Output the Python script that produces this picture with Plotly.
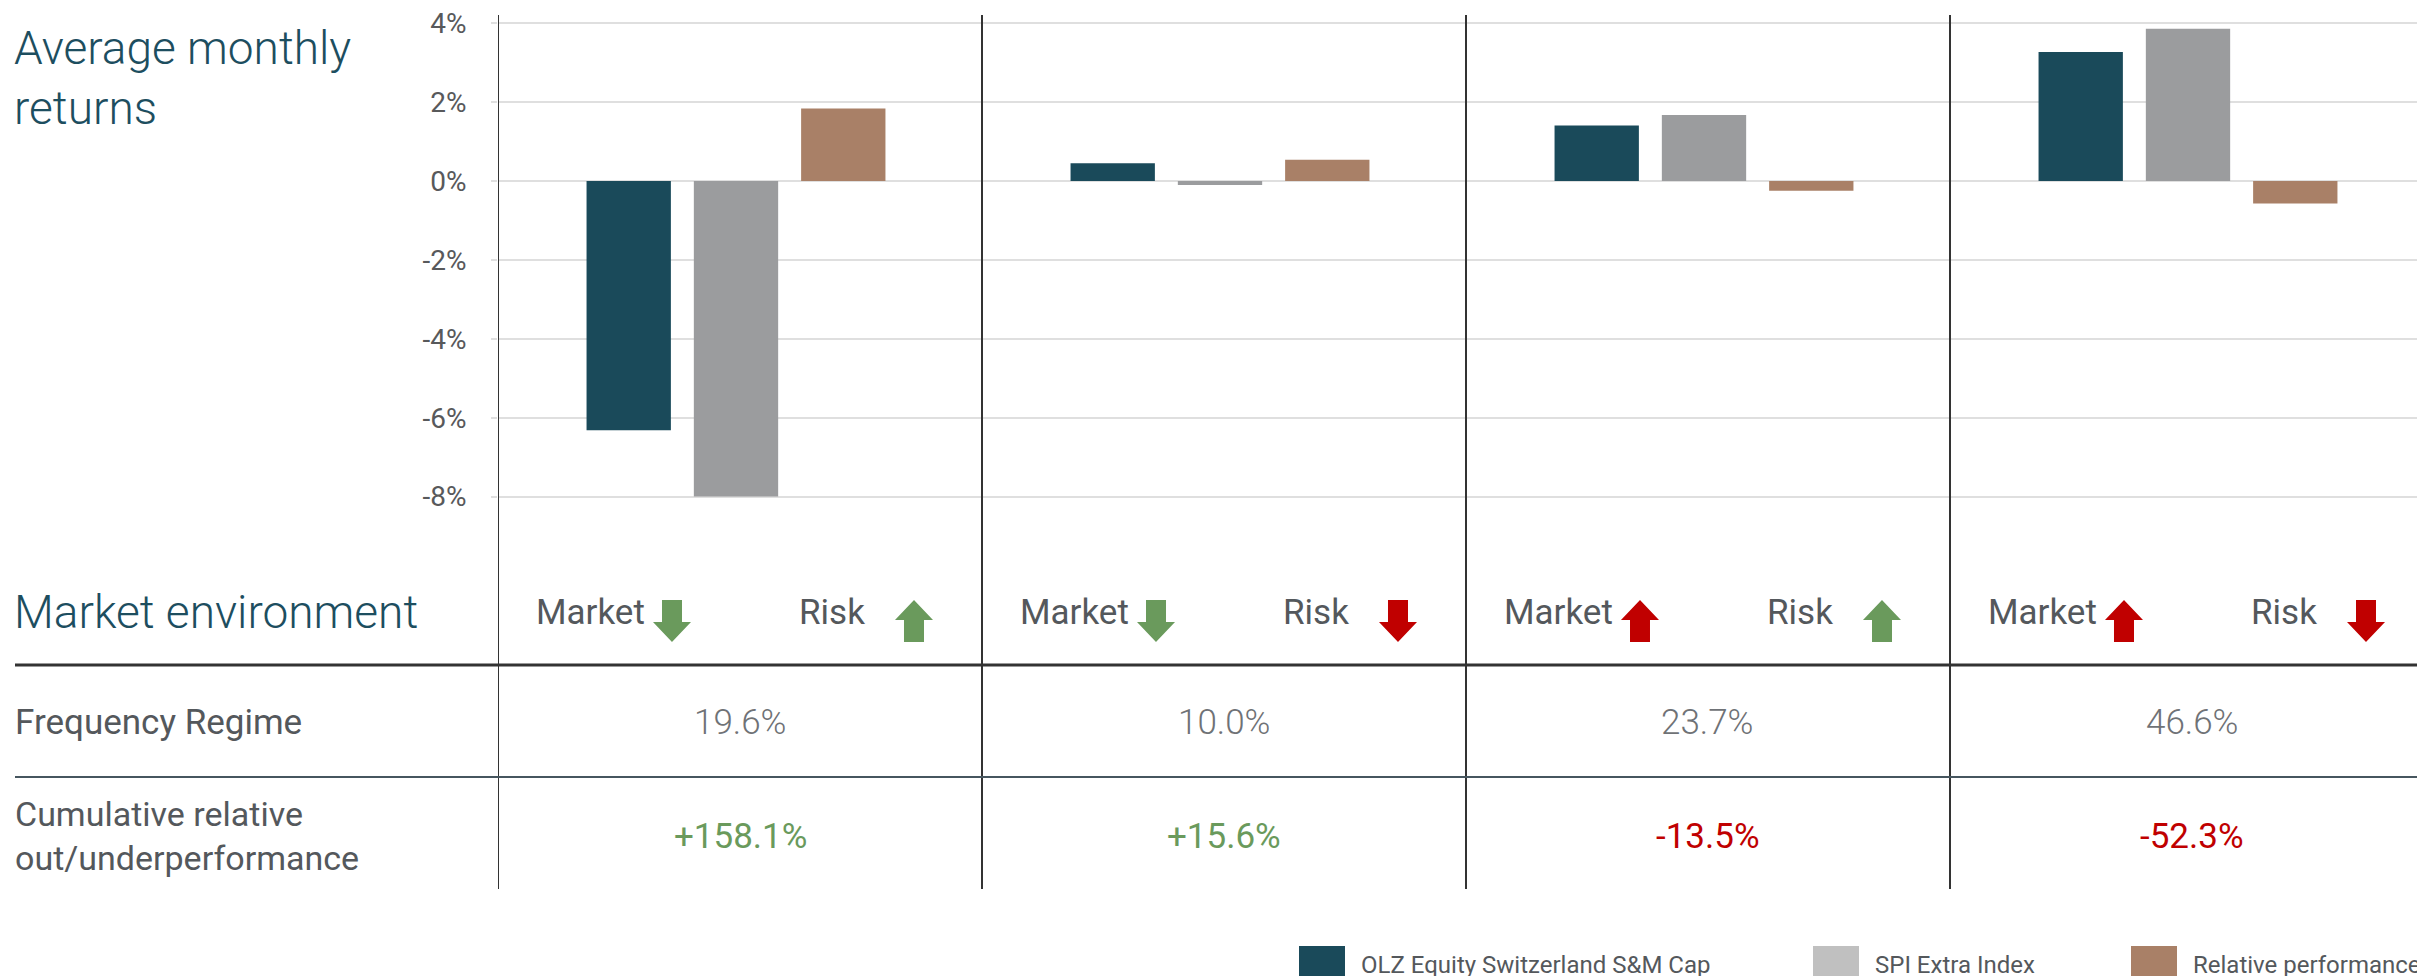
import plotly.graph_objects as go

# ---------------- data ----------------
regimes = ["Market down / Risk up", "Market down / Risk down",
           "Market up / Risk up", "Market up / Risk down"]
series_names = ["OLZ Equity Switzerland S&M Cap", "SPI Extra Index", "Relative performance"]
olz_returns = [-6.32, 0.45, 1.41, 3.27]
spi_returns = [-8.00, -0.10, 1.67, 3.86]
rel_returns = [1.84, 0.54, -0.25, -0.57]
market_dir = ["down", "down", "up", "up"]
risk_dir = ["up", "down", "up", "down"]
frequency = ["19.6%", "10.0%", "23.7%", "46.6%"]
cumulative = ["+158.1%", "+15.6%", "-13.5%", "-52.3%"]
y_ticks = [-8, -6, -4, -2, 0, 2, 4]

# ---------------- style ----------------
W, H = 2425, 976
OFF = 8  # page offset of the figure (body margin)
FONT = "Roboto"
bar_colors = ["#1a4a5a", "#9b9c9e", "#a98067"]
legend_colors = ["#1a4a5a", "#c0c0c0", "#a98067"]
TEAL = "#1d4e5f"
LABEL = "#54585c"
VALUE = "#6f7276"
GREEN = "#6a9a5c"
RED = "#c00000"
DIV = "#333333"

COL_W = 484.0
PLOT_LEFT = 498.0            # page pixels
PLOT_TOP, PLOT_BOTTOM = 15.0, 560.0
PX_PER_PCT = 39.45
Y0_PX = 181.0                # page pixel row of 0%
BAR_SHIFT = 4.0 / COL_W      # bar groups sit slightly left of the column centres


def px(x):
    return (x - OFF) / W


def py(y):
    return 1 - (y - OFF) / H


fig = go.Figure()
for name, vals, col in zip(series_names, [olz_returns, spi_returns, rel_returns], bar_colors):
    fig.add_trace(go.Bar(x=regimes, y=vals, name=name, marker=dict(color=col, line=dict(width=0)),
                         showlegend=False))

y_top = (Y0_PX - PLOT_TOP) / PX_PER_PCT
y_bot = -(PLOT_BOTTOM - Y0_PX) / PX_PER_PCT
n = len(regimes)
x_min = -0.5 + BAR_SHIFT
x_max = x_min + (W + OFF - PLOT_LEFT) / COL_W

shapes = []
annotations = []

# column dividers
for i in range(n):
    shapes.append(dict(type="line", xref="x", yref="paper", x0=i - 0.5 + BAR_SHIFT, x1=i - 0.5 + BAR_SHIFT,
                       y0=py(889), y1=py(15), line=dict(color=DIV, width=2), layer="above"))
# row separators
shapes.append(dict(type="line", xref="paper", yref="paper", x0=px(15), x1=1,
                   y0=py(665), y1=py(665), line=dict(color=DIV, width=3)))
shapes.append(dict(type="line", xref="paper", yref="paper", x0=px(15), x1=1,
                   y0=py(777), y1=py(777), line=dict(color="#46565f", width=2)))


def arrow_path(cx, direction, top=600, bottom=642, head_h=20, head_w=38, shaft_w=20):
    hw, sw = head_w / 2, shaft_w / 2
    if direction == "up":
        base = top + head_h
        pts = [(cx, top), (cx + hw, base), (cx + sw, base), (cx + sw, bottom),
               (cx - sw, bottom), (cx - sw, base), (cx - hw, base)]
    else:
        base = bottom - head_h
        pts = [(cx, bottom), (cx + hw, base), (cx + sw, base), (cx + sw, top),
               (cx - sw, top), (cx - sw, base), (cx - hw, base)]
    return "M " + " L ".join(f"{px(a):.5f},{py(b):.5f}" for a, b in pts) + " Z"


for i in range(n):
    left = PLOT_LEFT + i * COL_W
    center = left + COL_W / 2
    annotations.append(dict(text="Market", xref="paper", yref="paper", x=px(left + 36), y=py(612),
                            xanchor="left", yanchor="middle", showarrow=False,
                            font=dict(family=FONT, size=35, color=LABEL)))
    annotations.append(dict(text="Risk", xref="paper", yref="paper", x=px(left + 299), y=py(612),
                            xanchor="left", yanchor="middle", showarrow=False,
                            font=dict(family=FONT, size=35, color=LABEL)))
    mcol = GREEN if market_dir[i] == "down" else RED
    rcol = GREEN if risk_dir[i] == "up" else RED
    shapes.append(dict(type="path", xref="paper", yref="paper", path=arrow_path(left + 174, market_dir[i]),
                       fillcolor=mcol, line=dict(width=0)))
    shapes.append(dict(type="path", xref="paper", yref="paper", path=arrow_path(left + 416, risk_dir[i]),
                       fillcolor=rcol, line=dict(width=0)))
    annotations.append(dict(text=frequency[i], xref="paper", yref="paper", x=px(center), y=py(722),
                            xanchor="center", yanchor="middle", showarrow=False,
                            font=dict(family=FONT, size=35, color=VALUE, weight=300)))
    ccol = GREEN if cumulative[i].startswith("+") else RED
    annotations.append(dict(text=cumulative[i], xref="paper", yref="paper", x=px(center), y=py(836),
                            xanchor="center", yanchor="middle", showarrow=False,
                            font=dict(family=FONT, size=35, color=ccol)))

# left-hand headings
annotations.append(dict(text="Average monthly<br>returns", xref="paper", yref="paper", x=px(12), y=py(78),
                        xanchor="left", yanchor="middle", align="left", showarrow=False,
                        font=dict(family=FONT, size=46, color=TEAL, weight=300)))
annotations.append(dict(text="Market environment", xref="paper", yref="paper", x=px(12), y=py(612),
                        xanchor="left", yanchor="middle", showarrow=False,
                        font=dict(family=FONT, size=46, color=TEAL, weight=300)))
annotations.append(dict(text="Frequency Regime", xref="paper", yref="paper", x=px(13), y=py(722),
                        xanchor="left", yanchor="middle", showarrow=False,
                        font=dict(family=FONT, size=35, color=LABEL)))
annotations.append(dict(text="Cumulative relative<br>out/underperformance", xref="paper", yref="paper",
                        x=px(13), y=py(836), xanchor="left", yanchor="middle", align="left",
                        showarrow=False, font=dict(family=FONT, size=34, color=LABEL)))

# legend (drawn manually with large swatches)
legend_sw_x = [1299, 1813, 2131]
for name, col, lx in zip(series_names, legend_colors, legend_sw_x):
    shapes.append(dict(type="rect", xref="paper", yref="paper", x0=px(lx), x1=px(lx + 46),
                       y0=py(992), y1=py(946), fillcolor=col, line=dict(width=0)))
    annotations.append(dict(text=name, xref="paper", yref="paper", x=px(lx + 60), y=py(965),
                            xanchor="left", yanchor="middle", showarrow=False,
                            font=dict(family=FONT, size=24, color=LABEL)))

fig.update_layout(
    width=W, height=H,
    margin=dict(l=0, r=0, t=0, b=0, autoexpand=False),
    paper_bgcolor="white", plot_bgcolor="white",
    barmode="group", bargap=0.335, bargroupgap=0.214,
    showlegend=False,
    shapes=shapes, annotations=annotations,
    xaxis=dict(type="category", domain=[px(PLOT_LEFT), 1], range=[x_min, x_max], automargin=False,
               showticklabels=False, showgrid=False, zeroline=False, showline=False, ticks=""),
    yaxis=dict(domain=[py(PLOT_BOTTOM), py(PLOT_TOP)], range=[y_bot, y_top], automargin=False,
               tickvals=y_ticks, ticktext=[f"{v}%" for v in y_ticks],
               showgrid=True, gridcolor="#dfdfdf", gridwidth=2, zeroline=False, showline=False,
               ticks="outside", ticklen=6, tickwidth=2, tickcolor="#dfdfdf",
               ticklabelstandoff=19, ticklabeloverflow="allow",
               tickfont=dict(family=FONT, size=28, color="#58595b")),
)

fig.write_html("out.html")
